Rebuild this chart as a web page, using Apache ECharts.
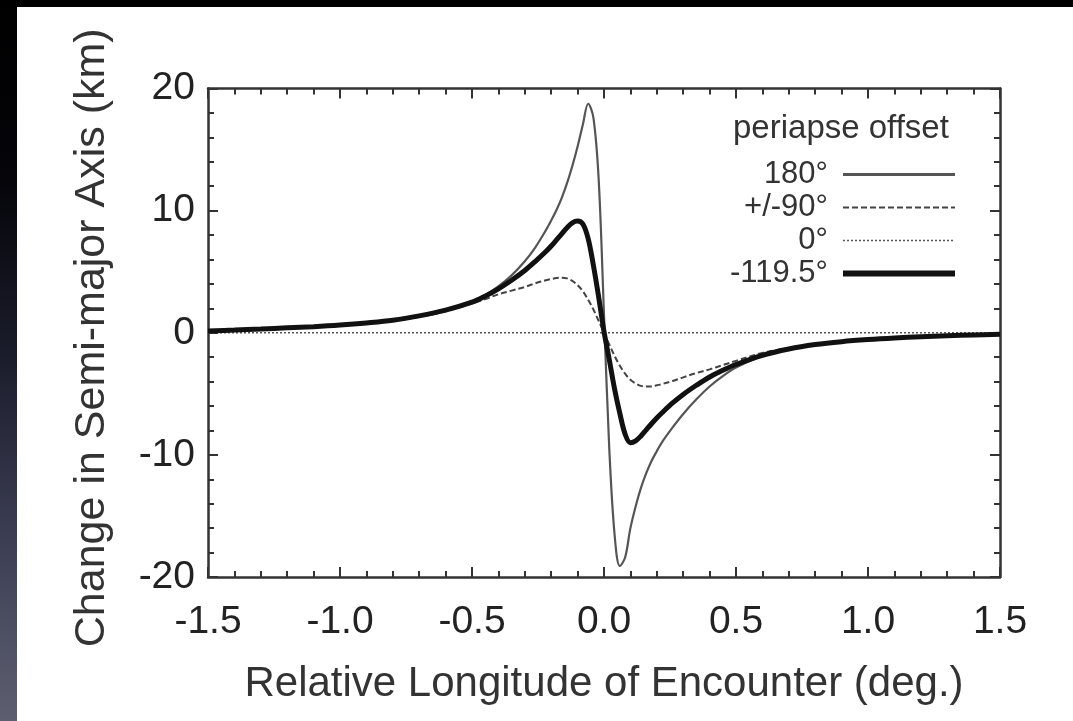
<!DOCTYPE html>
<html>
<head>
<meta charset="utf-8">
<script src="https://cdn.jsdelivr.net/npm/echarts@6/dist/echarts.min.js"></script>
<style>
  html, body { margin: 0; padding: 0; width: 1073px; height: 721px; overflow: hidden; background: #000; }
  #strip { position: absolute; left: 0; top: 0; width: 17px; height: 721px;
    background: linear-gradient(to bottom, #000 0%, #05050a 25%, #1c1d2c 50%, #3c3e54 75%, #5d5f70 100%); }
  #chart { position: absolute; left: 17px; top: 7px; width: 1056px; height: 714px; background: #fff; }
</style>
</head>
<body>
<div id="strip"></div>
<div id="chart"></div>
<script>
// Relative longitude of encounter (deg.)
const xs = [-1.5, -1.4, -1.3, -1.2, -1.1, -1.0, -0.9, -0.8, -0.7, -0.6, -0.5, -0.45, -0.4, -0.35, -0.3,
  -0.26, -0.22, -0.2, -0.18, -0.16, -0.14, -0.12, -0.1, -0.08, -0.06, -0.04, -0.02, 0,
  0.02, 0.04, 0.06, 0.08, 0.1, 0.12, 0.14, 0.16, 0.18, 0.2, 0.22, 0.26, 0.3, 0.35, 0.4, 0.45, 0.5,
  0.6, 0.7, 0.8, 0.9, 1.0, 1.1, 1.2, 1.3, 1.4, 1.5];

// Change in semi-major axis (km), per periapse offset
const y180 = [0.15, 0.22, 0.3, 0.4, 0.5, 0.63, 0.8, 1.02, 1.38, 1.85, 2.55, 3.1, 3.8, 4.7, 5.85,
  7.0, 8.4, 9.2, 10.05, 11.05, 12.25, 13.65, 15.25, 17.05, 18.75, 17.6, 12.5, 1.5,
  -9.5, -16.5, -19.1, -18.4, -16.0, -14.2, -12.7, -11.5, -10.5, -9.7, -8.95, -7.75, -6.65, -5.45, -4.4, -3.55, -2.85,
  -1.9, -1.35, -0.97, -0.73, -0.56, -0.43, -0.33, -0.25, -0.18, -0.12];

const y90 = [0.13, 0.2, 0.28, 0.37, 0.47, 0.6, 0.77, 0.98, 1.3, 1.75, 2.4, 2.75, 3.15, 3.45, 3.75,
  4.05, 4.3, 4.4, 4.48, 4.5, 4.45, 4.25, 3.9, 3.4, 2.7, 1.9, 0.95, 0,
  -0.95, -1.9, -2.7, -3.35, -3.85, -4.15, -4.35, -4.4, -4.4, -4.3, -4.2, -3.95, -3.65, -3.3, -3.0, -2.65, -2.3,
  -1.65, -1.25, -0.93, -0.7, -0.54, -0.42, -0.32, -0.24, -0.17, -0.12];

const y0 = [0, 0, 0, 0, 0, 0, 0, 0, 0, 0, 0, 0, 0, 0, 0,
  0, 0, 0, 0, 0, 0, 0, 0, 0, 0, 0, 0, 0,
  0, 0, 0, 0, 0, 0, 0, 0, 0, 0, 0, 0, 0, 0, 0, 0, 0,
  0, 0, 0, 0, 0, 0, 0, 0, 0, 0];

const y1195 = [0.15, 0.22, 0.3, 0.4, 0.5, 0.63, 0.8, 1.02, 1.38, 1.85, 2.5, 3.0, 3.6, 4.3, 5.1,
  5.85, 6.65, 7.1, 7.6, 8.1, 8.6, 9.0, 9.15, 8.9, 7.7, 5.5, 2.9, 0.1,
  -2.2, -4.6, -6.6, -8.3, -9.0, -8.85, -8.45, -7.95, -7.45, -6.98, -6.55, -5.75, -5.05, -4.3, -3.62, -3.07, -2.6,
  -1.85, -1.33, -0.97, -0.73, -0.56, -0.43, -0.33, -0.25, -0.18, -0.12];

const seriesNames = ['180°', '+/-90°', '0°', '-119.5°'];
const xTicks = [-1.5, -1.0, -0.5, 0.0, 0.5, 1.0, 1.5];
const yTicks = [-20, -10, 0, 10, 20];

const pair = ys => xs.map((x, i) => [x, ys[i]]);

const FONT = 'Liberation Sans, Arial, Helvetica, sans-serif';
const axisCol = '#333';

const baseAxis = {
  type: 'value',
  axisLine: { show: true, onZero: false, lineStyle: { color: axisCol, width: 2.5 } },
  axisTick: { show: true, inside: true, length: 10, lineStyle: { color: axisCol, width: 2 } },
  minorTick: { show: true, splitNumber: 5, length: 6, lineStyle: { color: axisCol, width: 2 } },
  splitLine: { show: false },
  minorSplitLine: { show: false }
};

const legendWidths = [3, 2, 1.6, 6];

const chart = echarts.init(document.getElementById('chart'), null, { renderer: 'canvas' });
chart.setOption({
  backgroundColor: '#fff',
  animation: false,
  textStyle: { fontFamily: FONT },
  title: {
    text: 'periapse offset',
    left: 716, top: 105, padding: 0,
    textStyle: { fontFamily: FONT, fontSize: 33, fontWeight: 'normal', color: '#333' }
  },
  legend: {
    data: seriesNames.map((n, i) => ({ name: n, lineStyle: { width: legendWidths[i] } })),
    orient: 'vertical',
    align: 'right',
    right: 115, top: 152,
    padding: 0,
    itemWidth: 112, itemHeight: 14, itemGap: 2,
    itemStyle: { opacity: 0, color: 'transparent', borderWidth: 0 },
    textStyle: { fontFamily: FONT, fontSize: 31, color: '#333', lineHeight: 31, padding: [0, 10, 0, 0] }
  },
  grid: { left: 191, top: 81.5, width: 792, height: 488.5, containLabel: false },
  xAxis: [
    Object.assign({}, baseAxis, {
      position: 'bottom', min: -1.5, max: 1.5, interval: 0.5,
      name: 'Relative Longitude of Encounter (deg.)',
      nameLocation: 'middle', nameGap: 86,
      nameTextStyle: { fontFamily: FONT, fontSize: 42, color: '#333' },
      axisLabel: { margin: 26, fontFamily: FONT, fontSize: 39, color: '#222',
        formatter: v => (xTicks.indexOf(v) >= 0 ? v.toFixed(1) : '') }
    }),
    Object.assign({}, baseAxis, {
      position: 'top', min: -1.5, max: 1.5, interval: 0.5,
      axisLabel: { show: false }
    })
  ],
  yAxis: [
    Object.assign({}, baseAxis, {
      position: 'left', min: -20, max: 20, interval: 10,
      name: 'Change in Semi-major Axis (km)',
      nameLocation: 'middle', nameGap: 94, nameRotate: 90,
      nameTextStyle: { fontFamily: FONT, fontSize: 43, color: '#333', padding: [0, 10, 0, 0] },
      axisLabel: { margin: 13, fontFamily: FONT, fontSize: 39, color: '#222',
        formatter: v => (yTicks.indexOf(v) >= 0 ? String(v) : '') }
    }),
    Object.assign({}, baseAxis, {
      position: 'right', min: -20, max: 20, interval: 10,
      axisLabel: { show: false }
    })
  ],
  series: [
    { name: seriesNames[0], type: 'line', data: pair(y180), symbol: 'none', smooth: 0.35,
      lineStyle: { color: '#555', width: 2.2 }, itemStyle: { color: '#555' }, z: 3 },
    { name: seriesNames[1], type: 'line', data: pair(y90), symbol: 'none', smooth: 0.35,
      lineStyle: { color: '#444', width: 2, type: [6, 3] }, itemStyle: { color: '#444' }, z: 2 },
    { name: seriesNames[2], type: 'line', data: pair(y0), symbol: 'none',
      lineStyle: { color: '#555', width: 1.6, type: [2, 2] }, itemStyle: { color: '#555' }, z: 2 },
    { name: seriesNames[3], type: 'line', data: pair(y1195), symbol: 'none', smooth: 0.35,
      lineStyle: { color: '#111', width: 5 }, itemStyle: { color: '#111' }, z: 4 }
  ]
});
</script>
</body>
</html>
